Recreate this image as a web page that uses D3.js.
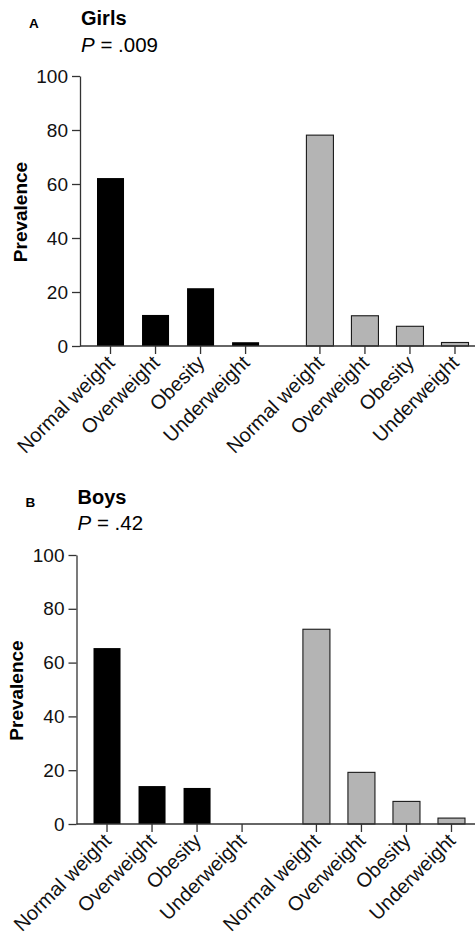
<!DOCTYPE html>
<html>
<head>
<meta charset="utf-8">
<script src="https://cdn.jsdelivr.net/npm/d3@7/dist/d3.min.js"></script>
<style>
  body { margin: 0; background: #fff; }
  svg { display: block; font-family: "Liberation Sans", Arial, sans-serif; }
</style>
</head>
<body>
<script>
let categories = ["Normal weight", "Overweight", "Obesity", "Underweight"];
let groups = ["group1", "group2"];
let yTicks = [0, 20, 40, 60, 80, 100];

let girlsGroup1 = [62.2, 11.5, 21.4, 1.4];
let girlsGroup2 = [78.1, 11.2, 7.3, 1.3];
let boysGroup1 = [65.4, 14.1, 13.4, 0];
let boysGroup2 = [72.4, 19.2, 8.4, 2.2];

let panelLetters = ["A", "B"];
let panelTitles = ["Girls", "Boys"];
let panelP = [".009", ".42"];

let x = 475;
let y = 932;
let svg = d3.select("body").append("svg")
  .attr("width", x).attr("height", y)
  .attr("viewBox", "0 0 " + x + " " + y);

let fills = { group1: "#000", group2: "#b4b4b4" };
let strokes = { group1: "#000", group2: "#1a1a1a" };
let axisColor = "#333";

// where each panel sits on the page
let layouts = [
  { axisX: 80, y0: 346, y100: 76, top: 0 },
  { axisX: 76.5, y0: 824, y100: 555, top: 478.5 }
];

let DrawPanel = (i, series1, series2) =>
{
  let L = layouts[i];
  let g = svg.append("g");

  let scaleY = d3.scaleLinear().domain([0, 100]).range([L.y0, L.y100]);
  let outer = d3.scaleBand().domain(groups)
    .range([L.axisX + 8, L.axisX + 397.5])
    .paddingInner(0.14);
  let inner = d3.scaleBand().domain(categories)
    .range([0, outer.bandwidth()])
    .paddingInner(0.4).paddingOuter(0.2);

  // header
  g.append("text").text(panelLetters[i])
    .attr("x", L.axisX - 51).attr("y", L.top + 28)
    .attr("font-size", "13.5px").attr("font-weight", "bold");
  g.append("text").text(panelTitles[i])
    .attr("x", L.axisX + 1).attr("y", L.top + 25)
    .attr("font-size", "20px").attr("font-weight", "bold");
  let pt = g.append("text")
    .attr("x", L.axisX + 1).attr("y", L.top + 51.5)
    .attr("font-size", "20.5px");
  pt.append("tspan").text("P").attr("font-style", "italic");
  pt.append("tspan").text(" = " + panelP[i]);

  // y label
  g.append("text").text("Prevalence")
    .attr("font-size", "19px").attr("font-weight", "bold")
    .attr("text-anchor", "middle")
    .attr("transform", "translate(" + (L.axisX - 53.5) + "," + ((L.y0 + L.y100) / 2 + 1) + ") rotate(-90)");

  // bars
  let data = [];
  categories.forEach((c, k) =>
  {
    data.push({ group: "group1", cat: c, v: series1[k] });
    data.push({ group: "group2", cat: c, v: series2[k] });
  });
  g.selectAll(".bar").data(data.filter(d => d.v > 0)).enter().append("rect")
    .attr("class", "bar")
    .attr("x", d => outer(d.group) + inner(d.cat))
    .attr("width", inner.bandwidth())
    .attr("y", d => scaleY(d.v))
    .attr("height", d => scaleY(0) - scaleY(d.v))
    .attr("fill", d => fills[d.group])
    .attr("stroke", d => strokes[d.group])
    .attr("stroke-width", d => d.group == "group2" ? 1.1 : 0);

  // y axis
  let ya = g.append("g")
    .attr("transform", "translate(" + L.axisX + ",0)")
    .call(d3.axisLeft(scaleY).tickValues(yTicks).tickSize(8).tickPadding(4).tickSizeOuter(0));
  ya.select(".domain").attr("stroke", axisColor).attr("stroke-width", 1.3);
  ya.selectAll(".tick line").attr("stroke", axisColor).attr("stroke-width", 1.3);
  ya.selectAll(".tick text").attr("font-size", "19px").attr("font-family", null).attr("fill", "#111");

  // x axis baseline
  g.append("line")
    .attr("x1", L.axisX).attr("x2", x)
    .attr("y1", L.y0).attr("y2", L.y0)
    .attr("stroke", axisColor).attr("stroke-width", 1.3);

  groups.forEach(gr =>
  {
    let xa = g.append("g")
      .attr("transform", "translate(" + outer(gr) + "," + L.y0 + ")")
      .call(d3.axisBottom(inner).tickSize(8).tickSizeOuter(0));
    xa.select(".domain").remove();
    xa.selectAll(".tick line").attr("stroke", axisColor).attr("stroke-width", 1.3);
    xa.selectAll(".tick text")
      .attr("font-size", "20px").attr("font-family", null).attr("fill", "#111")
      .attr("text-anchor", "end")
      .attr("x", -9).attr("y", 16.5).attr("dy", 0)
      .attr("transform", "rotate(-45)");
  });
}

DrawPanel(0, girlsGroup1, girlsGroup2);
DrawPanel(1, boysGroup1, boysGroup2);
</script>
</body>
</html>
